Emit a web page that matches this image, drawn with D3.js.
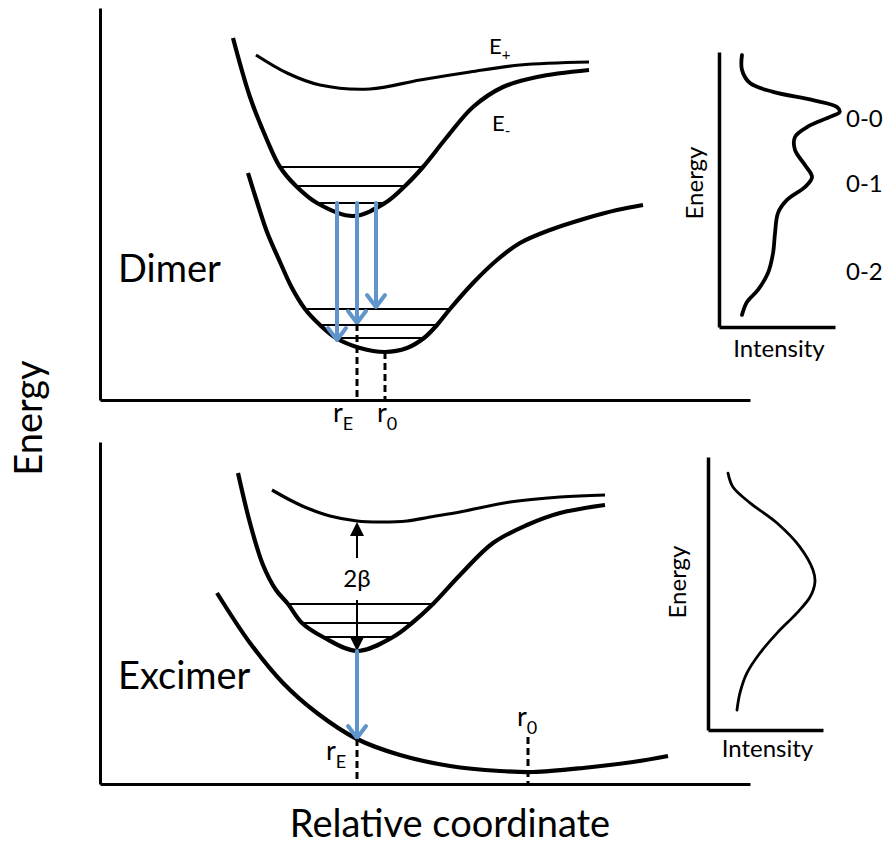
<!DOCTYPE html>
<html>
<head>
<meta charset="utf-8">
<script src="https://cdn.jsdelivr.net/npm/d3@7"></script>
<style>
  body { margin: 0; background: #fff; }
  svg text { font-family: Lato, "Open Sans", sans-serif; fill: #000; }
</style>
</head>
<body>
<svg id="chart" width="889" height="849"></svg>
<script>
// potential curves, [relative coordinate, energy]
const dimerEplus = [[15.6,34.5],[18.7,32.7],[22.0,31.5],[27.0,31.1],[32.0,32.0],[37.0,32.8],[42.0,33.5],[48.9,33.8]];
const dimerEminus = [[13.3,36.2],[15.0,30.3],[16.7,26.0],[18.0,23.3],[19.6,21.4],[21.7,19.7],[25.3,18.4],[28.5,19.7],[30.5,21.4],[32.3,23.3],[34.7,26.3],[37.3,29.3],[40.3,31.3],[43.7,32.3],[48.9,33.0]];
const dimerGround = [[14.8,22.7],[15.8,19.5],[16.7,16.8],[18.0,13.8],[19.2,11.2],[20.5,9.1],[22.0,7.5],[23.6,6.2],[26.0,5.2],[28.5,4.8],[30.7,5.2],[32.4,6.2],[33.7,7.5],[35.0,9.1],[37.3,11.7],[39.7,14.0],[42.0,15.7],[45.0,17.0],[48.7,18.2],[51.7,19.0],[54.3,19.5]];

const excimerUpper = [[17.2,29.4],[19.0,28.4],[20.7,27.6],[23.0,26.8],[25.7,26.3],[28.0,26.2],[30.7,26.3],[33.0,26.7],[36.0,27.2],[41.0,28.2],[46.0,28.7],[50.5,28.9]];
const excimerLower = [[13.8,31.1],[15.0,26.1],[16.3,21.9],[17.6,19.4],[18.8,18.0],[20.2,16.1],[22.3,14.7],[25.7,13.3],[29.3,14.7],[31.2,16.1],[33.3,18.0],[36.0,20.9],[39.3,24.1],[42.7,25.9],[46.0,27.1],[50.5,27.9]];
const excimerGround = [[11.7,19.1],[15.0,14.1],[18.3,10.1],[21.7,7.1],[25.7,4.5],[30.0,2.9],[35.0,1.8],[40.0,1.3],[43.3,1.2],[48.3,1.6],[53.3,2.2],[56.8,2.8]];

// vibrational levels, [r left, r right, energy]
const dimerExcLevels = [[18.0,32.3,23.3],[19.6,30.5,21.4],[21.7,28.5,19.7]];
const dimerGndLevels = [[20.5,35.0,9.1],[22.0,33.7,7.5],[23.6,32.4,6.2]];
const excimerLevels = [[18.8,33.3,18.0],[20.2,31.2,16.1],[22.3,29.3,14.7]];

// emission arrows, [r, energy from, energy to]
const dimerArrows = [[23.7,19.7,6.0],[25.7,19.7,7.7],[27.6,19.7,9.3]];
const excimerArrows = [[25.7,13.3,4.6]];

// dashed markers, [r, energy top, label, sub]
const dimerMarks = [[25.7,7.6,"r","E"],[28.5,4.8,"r","0"]];
const excimerMarks = [[25.7,4.5,"r","E"],[42.8,4.7,"r","0"]];

// spectra, [intensity, energy] on 0..1
const dimerSpectrum = [[0.198,0.989],[0.198,0.935],[0.267,0.887],[0.466,0.855],[0.81,0.825],[1.017,0.8],[1.04,0.782],[0.957,0.764],[0.759,0.727],[0.655,0.691],[0.655,0.644],[0.741,0.589],[0.802,0.545],[0.741,0.509],[0.586,0.462],[0.509,0.415],[0.483,0.342],[0.466,0.269],[0.422,0.196],[0.336,0.135],[0.241,0.091],[0.198,0.044]];
const excimerSpectrum = [[0.174,0.941],[0.217,0.890],[0.365,0.832],[0.600,0.758],[0.800,0.670],[0.913,0.586],[0.930,0.542],[0.887,0.487],[0.774,0.429],[0.600,0.355],[0.452,0.282],[0.339,0.209],[0.278,0.136],[0.252,0.073]];
const peakLabels = ["0-0","0-1","0-2"];
const peakEnergies = [0.755, 0.52, 0.2];

const BLUE = "#5f95cb";

const svg = d3.select("#chart");

const x = d3.scaleLinear().domain([0, 65]).range([100, 750]);
const yTop = d3.scaleLinear().domain([0, 39.2]).range([400, 8]);
const yBot = d3.scaleLinear().domain([0, 34.2]).range([784, 442]);

const sxTop = d3.scaleLinear().domain([0, 1]).range([719, 835]);
const syTop = d3.scaleLinear().domain([0, 1]).range([327, 52]);
const sxBot = d3.scaleLinear().domain([0, 1]).range([708, 823]);
const syBot = d3.scaleLinear().domain([0, 1]).range([730, 457]);

function drawAxes(xs, ys, width) {
  const gx = svg.append("g").attr("transform", `translate(0,${ys(0)})`)
    .call(d3.axisBottom(xs).ticks(0).tickSizeOuter(0));
  const gy = svg.append("g").attr("transform", `translate(${xs(0)},0)`)
    .call(d3.axisLeft(ys).ticks(0).tickSizeOuter(0));
  [gx, gy].forEach(g => g.select(".domain").attr("stroke", "#000").attr("stroke-width", width));
}

function curve(data, xs, ys, width) {
  const line = d3.line().x(d => xs(d[0])).y(d => ys(d[1])).curve(d3.curveCatmullRom.alpha(0.5));
  svg.append("path").attr("d", line(data))
    .attr("fill", "none").attr("stroke", "#000")
    .attr("stroke-width", width).attr("stroke-linecap", "butt");
}

function levels(data, ys) {
  svg.append("g").selectAll("line").data(data).enter().append("line")
    .attr("x1", d => x(d[0])).attr("x2", d => x(d[1]))
    .attr("y1", d => ys(d[2])).attr("y2", d => ys(d[2]))
    .attr("stroke", "#000").attr("stroke-width", 1.8);
}

function blueArrows(data, ys) {
  const g = svg.append("g").attr("stroke", BLUE).attr("fill", "none")
    .attr("stroke-width", 4).attr("stroke-linecap", "round").attr("stroke-linejoin", "round");
  data.forEach(d => {
    const xx = x(d[0]), y0 = ys(d[1]), y1 = ys(d[2]);
    g.append("line").attr("x1", xx).attr("x2", xx).attr("y1", y0).attr("y2", y1 - 2);
    g.append("path").attr("d", `M${xx - 9},${y1 - 12}L${xx},${y1}L${xx + 9},${y1 - 12}`);
  });
}

function marks(data, ys, labelPos) {
  data.forEach((d, i) => {
    svg.append("line").attr("x1", x(d[0])).attr("x2", x(d[0]))
      .attr("y1", ys(d[1])).attr("y2", ys(0))
      .attr("stroke", "#000").attr("stroke-width", 3).attr("stroke-dasharray", "7,4");
    const p = labelPos[i];
    const t = svg.append("text").attr("x", p[0]).attr("y", p[1]).attr("font-size", 27);
    t.append("tspan").text(d[2]);
    t.append("tspan").attr("font-size", 18).attr("dy", 8).text(d[3]);
  });
}

// ---- top panel: dimer
drawAxes(x, yTop, 3);
curve(dimerEplus, x, yTop, 3.2);
curve(dimerEminus, x, yTop, 4.2);
curve(dimerGround, x, yTop, 4.2);
levels(dimerExcLevels, yTop);
levels(dimerGndLevels, yTop);
blueArrows(dimerArrows, yTop);
marks(dimerMarks, yTop, [[333, 422], [377, 422]]);

svg.append("text").attr("x", 118).attr("y", 282).attr("font-size", 38).text("Dimer");
const ep = svg.append("text").attr("x", 489).attr("y", 54).attr("font-size", 22);
ep.append("tspan").text("E");
ep.append("tspan").attr("font-size", 15).attr("dy", 6).text("+");
const em = svg.append("text").attr("x", 492).attr("y", 131).attr("font-size", 22);
em.append("tspan").text("E");
em.append("tspan").attr("font-size", 15).attr("dy", 5).text("-");

// ---- bottom panel: excimer
drawAxes(x, yBot, 3);
curve(excimerUpper, x, yBot, 3.2);
curve(excimerLower, x, yBot, 4.2);
curve(excimerGround, x, yBot, 4.2);
levels(excimerLevels, yBot);

// 2 beta splitting arrow
const bx = x(25.7);
const bTop = yBot(26.2), bBot = yBot(13.3);
svg.append("line").attr("x1", bx).attr("x2", bx).attr("y1", bTop + 12).attr("y2", yBot(22.6))
  .attr("stroke", "#000").attr("stroke-width", 2);
svg.append("line").attr("x1", bx).attr("x2", bx).attr("y1", yBot(18.4)).attr("y2", bBot - 12)
  .attr("stroke", "#000").attr("stroke-width", 2);
svg.append("path").attr("d", `M${bx},${bTop}L${bx - 7},${bTop + 14}L${bx + 7},${bTop + 14}Z`);
svg.append("path").attr("d", `M${bx},${bBot}L${bx - 7},${bBot - 14}L${bx + 7},${bBot - 14}Z`);
svg.append("text").attr("x", bx).attr("y", 587).attr("text-anchor", "middle")
  .attr("font-size", 24).text("2β");

blueArrows(excimerArrows, yBot);
marks(excimerMarks, yBot, [[326, 760], [517, 726]]);

svg.append("text").attr("x", 118).attr("y", 689).attr("font-size", 38).text("Excimer");

// ---- spectra insets
function inset(data, sx, sy, width, energyX, energyY, intensityY) {
  drawAxes(sx, sy, 3.5);
  const line = d3.line().x(d => sx(d[0])).y(d => sy(d[1])).curve(d3.curveCatmullRom.alpha(0.5));
  svg.append("path").attr("d", line(data)).attr("fill", "none")
    .attr("stroke", "#000").attr("stroke-width", width).attr("stroke-linecap", "round");
  svg.append("text").attr("transform", `translate(${energyX},${energyY}) rotate(-90)`)
    .attr("text-anchor", "middle").attr("font-size", 24).text("Energy");
  svg.append("text").attr("x", (sx.range()[0] + sx.range()[1]) / 2 + 2).attr("y", intensityY)
    .attr("text-anchor", "middle").attr("font-size", 24).text("Intensity");
}
inset(dimerSpectrum, sxTop, syTop, 3.8, 703, 183, 357);
inset(excimerSpectrum, sxBot, syBot, 2.8, 686, 582, 757);

svg.append("g").selectAll("text").data(peakLabels).enter().append("text")
  .attr("x", 846).attr("y", (d, i) => syTop(peakEnergies[i]) + 8)
  .attr("font-size", 24).text(d => d);

// ---- shared labels
svg.append("text").attr("transform", "translate(42,418) rotate(-90)")
  .attr("text-anchor", "middle").attr("font-size", 38).text("Energy");
svg.append("text").attr("x", 450).attr("y", 837).attr("text-anchor", "middle")
  .attr("font-size", 38).text("Relative coordinate");
</script>
</body>
</html>
